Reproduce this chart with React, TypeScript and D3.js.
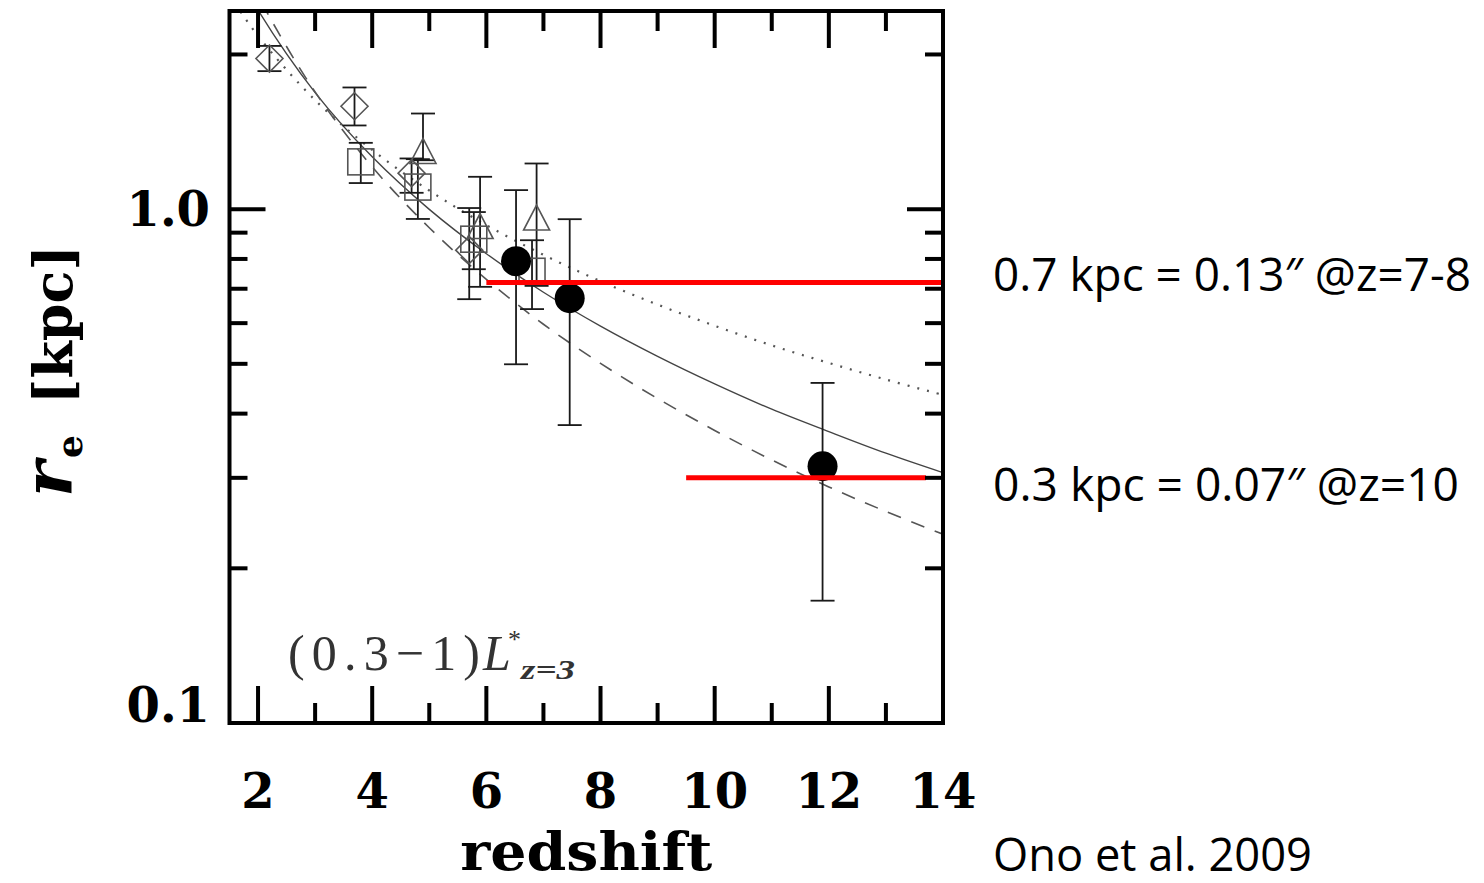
import React from 'react';
import * as d3 from 'd3';

// ---------- data ----------
const xMajorTicks = [2, 4, 6, 8, 10, 12, 14];
const xMinorTicks = [3, 5, 7, 9, 11, 13];
const yMajorTicks = [0.1, 1.0];
const yMinorTicks = [0.2, 0.3, 0.4, 0.5, 0.6, 0.7, 0.8, 0.9, 2.0];
const yTickLabels = ['0.1', '1.0'];

// model curves
const curveZ = [1.5, 2, 3, 4, 5, 6, 7, 8, 9, 10, 11, 12, 13, 14];
const solidR = [3.09, 2.44, 1.686, 1.264, 0.999, 0.819, 0.689, 0.592, 0.517, 0.457, 0.408, 0.369, 0.335, 0.307];
const dashedR = [3.42, 2.602, 1.69, 1.209, 0.92, 0.73, 0.597, 0.501, 0.428, 0.371, 0.325, 0.288, 0.258, 0.233];
const dottedR = [2.608, 2.173, 1.63, 1.304, 1.087, 0.931, 0.815, 0.724, 0.652, 0.593, 0.543, 0.502, 0.466, 0.435];

// open diamonds
const diamondZ = [2.2, 3.69, 4.69, 5.7];
const diamondR = [1.964, 1.586, 1.175, 0.832];
const diamondHi = [2.078, 1.725, 1.255, 1.005];
const diamondLo = [1.856, 1.455, 1.076, 0.668];

// open squares
const squareZ = [3.8, 4.8, 5.78, 6.8];
const squareR = [1.236, 1.104, 0.874, 0.757];
const squareHi = [1.346, 1.251, 0.987, 0.87];
const squareLo = [1.124, 0.957, 0.764, 0.639];

// open triangles
const triZ = [4.89, 5.89, 6.88];
const triR = [1.298, 0.927, 0.963];
const triHi = [1.535, 1.156, 1.227];
const triLo = [1.245, 0.706, 0.709];

// filled circles (this work)
const circZ = [6.52, 7.46, 11.89];
const circR = [0.792, 0.671, 0.316];
const circHi = [1.089, 0.956, 0.459];
const circLo = [0.499, 0.38, 0.173];

// red reference lines
const redZ0 = [6.0, 9.5];
const redZ1 = [14.0, 13.7];
const redR = [0.72, 0.3];
const redLabels = ['0.7 kpc = 0.13\u2033 @z=7-8', '0.3 kpc = 0.07\u2033 @z=10'];
const redLabelLengths = [478, 466];

// ---------- layout ----------
const W = 1484;
const H = 883;
const X0 = 229.5;
const X1 = 943;
const Y0 = 11;
const Y1 = 723;

const xScale = d3.scaleLinear().domain([1.5, 14]).range([X0, X1]);
const yScale = d3.scaleLog().domain([0.1, 2.43]).range([Y1, Y0]);

const serif = "'DejaVu Serif', serif";
const cmSerif = "'Liberation Serif', 'DejaVu Serif', serif";
const sans = "'Open Sans', 'Noto Sans', sans-serif";

const lineGen = d3
  .line<[number, number]>()
  .x((d) => xScale(d[0]))
  .y((d) => yScale(d[1]))
  .curve(d3.curveCatmullRom);

function ErrorBar({ z, lo, hi }: { z: number; lo: number; hi: number }) {
  const x = xScale(z);
  const y1 = yScale(hi);
  const y2 = yScale(lo);
  const c = 12;
  return (
    <g stroke="#1a1a1a" strokeWidth={1.8} fill="none">
      <line x1={x} x2={x} y1={y1} y2={y2} />
      <line x1={x - c} x2={x + c} y1={y1} y2={y1} />
      <line x1={x - c} x2={x + c} y1={y2} y2={y2} />
    </g>
  );
}

export default function App() {
  const zip = (a: number[], b: number[]) => a.map((v, i) => [v, b[i]] as [number, number]);
  const markStroke = '#555';
  return (
    <svg
      width={W}
      height={H}
      style={{ position: 'absolute', left: 0, top: 0, background: '#fff' }}
      xmlns="http://www.w3.org/2000/svg"
    >
      <defs>
        <clipPath id="plotClip">
          <rect x={X0} y={Y0} width={X1 - X0} height={Y1 - Y0} />
        </clipPath>
      </defs>

      {/* curves */}
      <g clipPath="url(#plotClip)" fill="none">
        <path d={lineGen(zip(curveZ, solidR)) || ''} stroke="#444" strokeWidth={1.4} />
        <path d={lineGen(zip(curveZ, dashedR)) || ''} stroke="#555" strokeWidth={1.6} strokeDasharray="14 11" />
        <path d={lineGen(zip(curveZ, dottedR)) || ''} stroke="#555" strokeWidth={2.2} strokeDasharray="2 8" />
      </g>

      {/* error bars for open symbols */}
      {diamondZ.map((z, i) => (
        <ErrorBar key={'de' + i} z={z} lo={diamondLo[i]} hi={diamondHi[i]} />
      ))}
      {squareZ.map((z, i) => (
        <ErrorBar key={'se' + i} z={z} lo={squareLo[i]} hi={squareHi[i]} />
      ))}
      {triZ.map((z, i) => (
        <ErrorBar key={'te' + i} z={z} lo={triLo[i]} hi={triHi[i]} />
      ))}

      {/* open symbols */}
      <g fill="none" stroke={markStroke} strokeWidth={1.6}>
        {diamondZ.map((z, i) => {
          const x = xScale(z);
          const y = yScale(diamondR[i]);
          const h = 13.5;
          return <path key={'d' + i} d={`M${x},${y - h}L${x + h},${y}L${x},${y + h}L${x - h},${y}Z`} />;
        })}
        {squareZ.map((z, i) => {
          const x = xScale(z);
          const y = yScale(squareR[i]);
          const s = 26;
          return <rect key={'s' + i} x={x - s / 2} y={y - s / 2} width={s} height={s} />;
        })}
        {triZ.map((z, i) => {
          const x = xScale(z);
          const y = yScale(triR[i]);
          const hw = 13;
          const hh = 12.5;
          return <path key={'t' + i} d={`M${x},${y - hh}L${x + hw},${y + hh}L${x - hw},${y + hh}Z`} />;
        })}
      </g>

      {/* filled circles */}
      {circZ.map((z, i) => (
        <ErrorBar key={'ce' + i} z={z} lo={circLo[i]} hi={circHi[i]} />
      ))}
      {circZ.map((z, i) => (
        <circle key={'c' + i} cx={xScale(z)} cy={yScale(circR[i])} r={15} fill="#000" />
      ))}

      {/* red lines */}
      {redR.map((r, i) => (
        <line
          key={'r' + i}
          x1={xScale(redZ0[i])}
          x2={xScale(redZ1[i])}
          y1={yScale(r)}
          y2={yScale(r)}
          stroke="#ff0000"
          strokeWidth={5}
        />
      ))}

      {/* frame */}
      <rect x={X0} y={Y0} width={X1 - X0} height={Y1 - Y0} fill="none" stroke="#000" strokeWidth={4} />

      {/* ticks */}
      <g stroke="#000" strokeWidth={4}>
        {xMajorTicks.map((z) => (
          <g key={'xM' + z}>
            <line x1={xScale(z)} x2={xScale(z)} y1={Y1} y2={Y1 - 37} />
            <line x1={xScale(z)} x2={xScale(z)} y1={Y0} y2={Y0 + 37} />
          </g>
        ))}
        {xMinorTicks.map((z) => (
          <g key={'xm' + z}>
            <line x1={xScale(z)} x2={xScale(z)} y1={Y1} y2={Y1 - 20} />
            <line x1={xScale(z)} x2={xScale(z)} y1={Y0} y2={Y0 + 20} />
          </g>
        ))}
        {yMajorTicks.map((r) => (
          <g key={'yM' + r}>
            <line x1={X0} x2={X0 + 36} y1={yScale(r)} y2={yScale(r)} />
            <line x1={X1} x2={X1 - 36} y1={yScale(r)} y2={yScale(r)} />
          </g>
        ))}
        {yMinorTicks.map((r) => (
          <g key={'ym' + r}>
            <line x1={X0} x2={X0 + 18} y1={yScale(r)} y2={yScale(r)} />
            <line x1={X1} x2={X1 - 18} y1={yScale(r)} y2={yScale(r)} />
          </g>
        ))}
      </g>

      {/* tick labels */}
      <g fontFamily={serif} fontWeight="bold" fontSize={48} fill="#000">
        {xMajorTicks.map((z) => (
          <text key={'xl' + z} x={xScale(z)} y={808} textAnchor="middle">
            {String(z)}
          </text>
        ))}
        {yMajorTicks.map((r, i) => (
          <text key={'yl' + r} x={210} y={Math.min(yScale(r) + 17, 722)} textAnchor="end">
            {yTickLabels[i]}
          </text>
        ))}
      </g>

      {/* axis titles */}
      <text
        x={(X0 + X1) / 2}
        y={870}
        textAnchor="middle"
        fontFamily={serif}
        fontWeight="bold"
        fontSize={52}
        textLength={252}
        lengthAdjust="spacingAndGlyphs"
      >
        redshift
      </text>
      <g transform="translate(72,0) rotate(-90)" fontFamily={serif} fontWeight="bold">
        <text x={-497} y={0} fontSize={68} fontStyle="italic">
          r
        </text>
        <text x={-458} y={10} fontSize={36}>
          e
        </text>
        <text x={-245} y={0} fontSize={54} textAnchor="end">
          [kpc]
        </text>
      </g>

      {/* in-plot annotation */}
      <g fontFamily={cmSerif} fill="#333">
        <text x={288} y={670} fontSize={50} textLength={192} lengthAdjust="spacing">
          (0.3−1)
        </text>
        <text x={483} y={670} fontSize={50} fontStyle="italic">
          L
        </text>
        <text x={508} y={648} fontSize={26}>
          *
        </text>
        <text
          x={521}
          y={679}
          fontSize={27}
          fontStyle="italic"
          fontWeight="bold"
          textLength={54}
          lengthAdjust="spacingAndGlyphs"
        >
          z=3
        </text>
      </g>

      {/* right-hand annotations */}
      <g fontFamily={sans} fontSize={46} fill="#000">
        {redR.map((r, i) => (
          <text
            key={'rl' + i}
            x={993}
            y={yScale(r) + (i === 0 ? 9 : 23)}
            textLength={redLabelLengths[i]}
            lengthAdjust="spacingAndGlyphs"
          >
            {redLabels[i]}
          </text>
        ))}
        <text x={993} y={871} textLength={319} lengthAdjust="spacingAndGlyphs">
          Ono et al. 2009
        </text>
      </g>
    </svg>
  );
}
